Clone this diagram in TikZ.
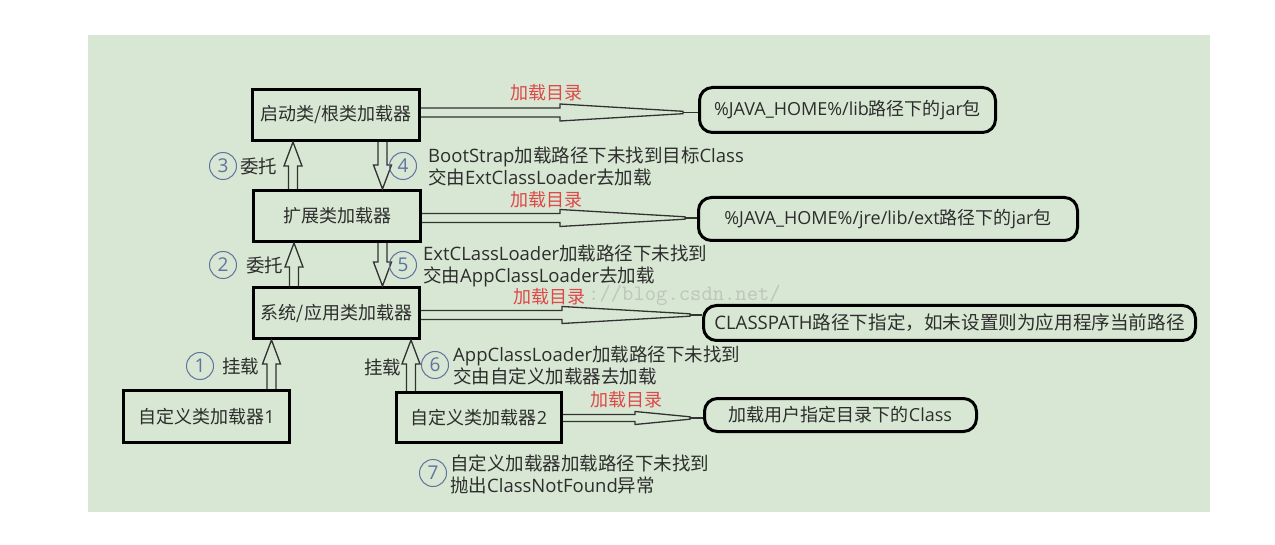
\documentclass[tikz,border=0pt]{standalone}
\usepackage{fontspec}
\setmainfont{Noto Sans CJK SC}
\newfontfamily\lat{Open Sans}
\usetikzlibrary{calc}
\definecolor{bg}{RGB}{216,231,211}
\definecolor{txt}{RGB}{45,45,45}
\definecolor{redl}{RGB}{222,72,72}
\definecolor{numc}{RGB}{95,115,160}
\definecolor{wm}{RGB}{188,198,186}
\definecolor{lnc}{RGB}{50,50,50}
\tikzset{
  box/.style={draw=black, line width=3pt, inner sep=0pt, text=txt, font=\fontsize{18}{22}\selectfont},
  rbox/.style={draw=black, line width=3pt, rounded corners=13pt, inner sep=0pt, text=txt, font=\fontsize{18}{22}\selectfont},
  conn/.style={draw=lnc, line width=1.3pt, line join=miter},
  numcirc/.style={circle, draw=numc, line width=1pt, minimum size=27pt, inner sep=0pt, text=numc, font=\lat\fontsize{19}{20}\selectfont},
  lbl/.style={anchor=west, inner sep=0pt, text=txt, font=\fontsize{18.5}{20}\selectfont},
  note/.style={anchor=west, inner sep=0pt, align=left, text=txt, font=\fontsize{18.5}{22}\selectfont},
  redlbl/.style={inner sep=0pt, text=redl, font=\fontsize{18}{20}\selectfont},
}
\newcommand\hconn[7]{%
  \draw[conn] ($(#1.east|-0,#3)+(0,-#4)$) -- (#5,#3-#4) -- (#5,#3-#6) -- (#7,#3-1.2) -- (#7,#3+1.2) -- (#5,#3+#6) -- (#5,#3+#4) -- ($(#1.east|-0,#3)+(0,#4)$);
  \draw[conn] (#7,#3) -- (#2.west|-0,#3);
}
\newcommand\vup[3]{%
  \draw[conn] ($(#2.north-|#1,0)+(-4.5,0)$) -- ($(#3.south-|#1,0)+(-4.5,24)$) -- ($(#3.south-|#1,0)+(-9,24)$) -- (#3.south-|#1,0) -- ($(#3.south-|#1,0)+(9,24)$) -- ($(#3.south-|#1,0)+(4.5,24)$) -- ($(#2.north-|#1,0)+(4.5,0)$);
}
\newcommand\vdown[3]{%
  \draw[conn] ($(#2.south-|#1,0)+(-4.5,0)$) -- ($(#3.north-|#1,0)+(-4.5,-24)$) -- ($(#3.north-|#1,0)+(-9,-24)$) -- (#3.north-|#1,0) -- ($(#3.north-|#1,0)+(9,-24)$) -- ($(#3.north-|#1,0)+(4.5,-24)$) -- ($(#2.south-|#1,0)+(4.5,0)$);
}
\begin{document}
\begin{tikzpicture}[x=1pt, y=-1pt]
\useasboundingbox (0,0) rectangle (1275,545);
\fill[white] (0,0) rectangle (1275,545);
\fill[bg] (88,35) rectangle (1210,512);

% watermark
\node[anchor=west, inner sep=0pt, text=wm, font=\ttfamily\fontsize{22}{22}\selectfont] (wmk) at (588,295) {://blog.csdn.net/};

% loader boxes
\node[box, minimum width=167pt, minimum height=51pt] (A) at (336,115) {启动类/根类加载器};
\node[box, minimum width=167pt, minimum height=51pt] (B) at (337,216) {扩展类加载器};
\node[box, minimum width=166pt, minimum height=51pt] (C) at (336.5,313) {系统/应用类加载器};
\node[box, minimum width=166pt, minimum height=52pt] (D) at (206.5,416.5) {自定义类加载器{\lat 1}};
\node[box, minimum width=165pt, minimum height=50pt] (E) at (479,417.5) {自定义类加载器{\lat 2}};

% directory boxes
\node[rbox, minimum width=296pt, minimum height=45pt] (R1) at (847.5,110) {{\lat\%JAVA\_HOME\%/lib}路径下的{\lat jar}包};
\node[rbox, minimum width=379pt, minimum height=43pt] (R2) at (888,219) {{\lat\%JAVA\_HOME\%/jre/lib/ext}路径下的{\lat jar}包};
\node[rbox, minimum width=492pt, minimum height=35pt, font=\fontsize{18.6}{22}\selectfont] (R3) at (949.5,323) {{\lat CLASSPATH}路径下指定，如未设置则为应用程序当前路径};
\node[rbox, minimum width=272pt, minimum height=33pt] (R4) at (840.5,415) {加载用户指定目录下的{\lat Class}};

% load-directory connectors
\hconn{A}{R1}{112.5}{4.5}{560}{8.5}{683}
\hconn{B}{R2}{218}{4.5}{560}{8.5}{685}
\hconn{C}{R3}{315}{4.5}{562}{8.5}{690}
\hconn{E}{R4}{418}{3.5}{635}{6.5}{690}

\node[redlbl] (l1) at (546.5,93) {加载目录};
\node[redlbl] (l2) at (546.5,200) {加载目录};
\node[redlbl] (l3) at (549,297) {加载目录};
\node[redlbl] (l4) at (626.5,400) {加载目录};

% delegation arrows
\vup{293}{B}{A}
\vdown{382.5}{A}{B}
\vup{294}{C}{B}
\vdown{382.5}{B}{C}
\vup{271.5}{D}{C}
\vup{411}{E}{C}

% numbers and labels
\node[numcirc] (n3) at (223,166) {3};
\node[lbl] (t3) at (240,166) {委托};
\node[numcirc] (n4) at (403,166) {4};
\node[note] (t4) at (428,166) {{\lat BootStrap}加载路径下未找到目标{\lat Class}\\交由{\lat ExtClassLoader}去加载};

\node[numcirc] (n2) at (223,265) {2};
\node[lbl] (t2) at (246,265) {委托};
\node[numcirc] (n5) at (403,265) {5};
\node[note] (t5) at (423,266) {{\lat ExtCLassLoader}加载路径下未找到\\交由{\lat AppClassLoader}去加载};

\node[numcirc] (n1) at (200,366) {1};
\node[lbl] (t1) at (222,366) {挂载};
\node[lbl] (t1b) at (364,367) {挂载};
\node[numcirc] (n6) at (435,365) {6};
\node[note] (t6) at (453,365) {{\lat AppClassLoader}加载路径下未找到\\交由自定义加载器去加载};

\node[numcirc] (n7) at (433,473) {7};
\node[note] (t7) at (450,474) {自定义加载器加载路径下未找到\\抛出{\lat ClassNotFound}异常};
\end{tikzpicture}
\end{document}
